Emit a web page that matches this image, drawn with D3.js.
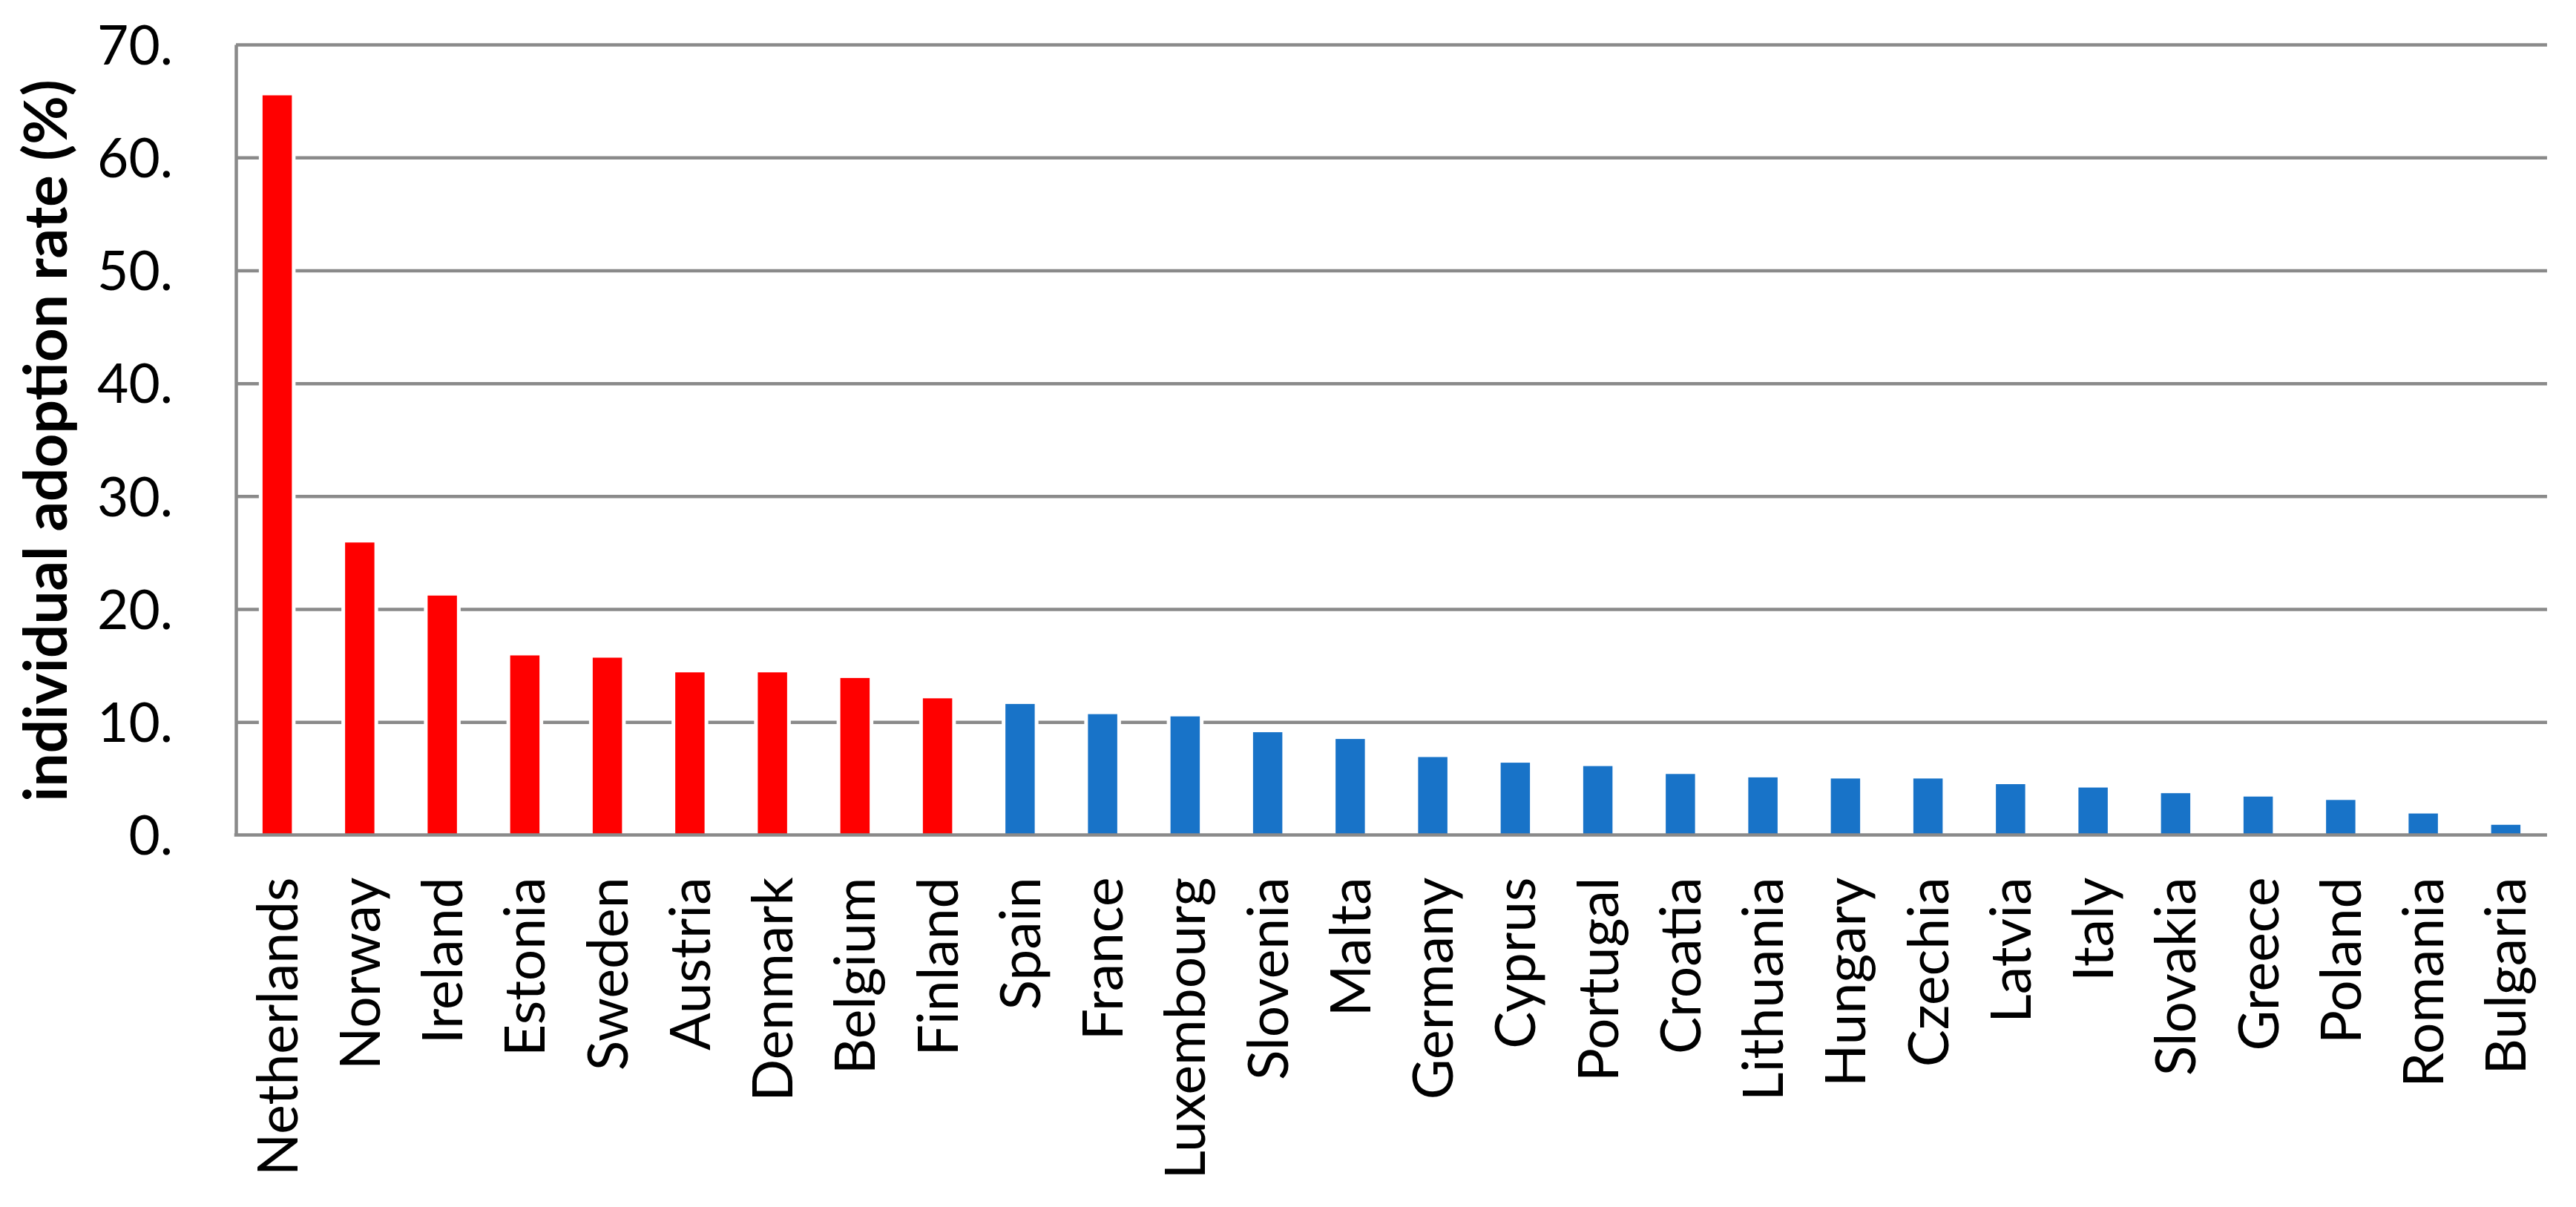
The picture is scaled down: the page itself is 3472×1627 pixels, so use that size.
<!DOCTYPE html>
<html>
<head>
<meta charset="utf-8">
<script src="https://cdn.jsdelivr.net/npm/d3@7"></script>
<style>
  html, body { margin: 0; padding: 0; background: #ffffff; }
  svg { display: block; }
</style>
</head>
<body>
<svg id="chart" width="3472" height="1627"></svg>
<script>
// ---- data ----
const countries = ["Netherlands","Norway","Ireland","Estonia","Sweden","Austria","Denmark","Belgium","Finland",
  "Spain","France","Luxembourg","Slovenia","Malta","Germany","Cyprus","Portugal","Croatia","Lithuania",
  "Hungary","Czechia","Latvia","Italy","Slovakia","Greece","Poland","Romania","Bulgaria"];
const adoptionRates = [65.5,25.9,21.2,15.9,15.7,14.4,14.4,13.9,12.1,
  11.6,10.7,10.5,9.1,8.5,6.9,6.4,6.1,5.4,5.1,
  5.0,5.0,4.5,4.2,3.7,3.4,3.1,1.9,0.9];
const highlighted = ["Netherlands","Norway","Ireland","Estonia","Sweden","Austria","Denmark","Belgium","Finland"];
const tickValues = [0,10,20,30,40,50,60,70];
const tickLabels = ["0.","10.","20.","30.","40.","50.","60.","70."];
const yTitle = "individual adoption rate (%)";

// ---- layout ----
const svg = d3.select("#chart");
const plotLeft = 318, plotRight = 3433, plotTop = 60, plotBottom = 1125.5;
const gridColor = "#8a8a8a";
const redColor = "#ff0000", blueColor = "#1873c8";
const fontFamily = "Lato, 'Open Sans', 'Liberation Sans', sans-serif";

const x = d3.scaleBand()
  .domain(countries)
  .range([plotLeft, plotRight])
  .paddingInner(0.645)
  .paddingOuter(0.3225);

const y = d3.scaleLinear().domain([0, 70]).range([plotBottom, plotTop]);

// gridlines
const grid = svg.append("g")
  .attr("transform", `translate(${plotLeft},0)`)
  .call(d3.axisLeft(y).tickValues(tickValues.filter(d => d > 0)).tickSize(-(plotRight - plotLeft)).tickFormat(""));
grid.select(".domain").remove();
grid.selectAll(".tick line").attr("stroke", gridColor).attr("stroke-width", 4.5);

// bars
const data = countries.map((c, i) => ({country: c, value: adoptionRates[i]}));
svg.append("g").selectAll("rect")
  .data(data)
  .join("rect")
  .attr("x", d => x(d.country))
  .attr("width", x.bandwidth())
  .attr("y", d => y(d.value))
  .attr("height", d => y(0) - y(d.value))
  .attr("fill", d => highlighted.includes(d.country) ? redColor : blueColor)
  .attr("stroke", "#ffffff")
  .attr("stroke-width", 10)
  .style("paint-order", "stroke");

// left axis line + tick labels
const yAxis = svg.append("g")
  .attr("transform", `translate(${plotLeft},0)`)
  .call(d3.axisLeft(y).tickValues(tickValues).tickSize(0).tickPadding(85)
    .tickFormat((d, i) => tickLabels[i]));
yAxis.select(".domain").attr("stroke", gridColor).attr("stroke-width", 4.5);
yAxis.selectAll(".tick text")
  .attr("font-family", fontFamily)
  .attr("font-size", 73)
  .attr("fill", "#000")
  .attr("dy", "0.36em");

// bottom axis
const xAxis = svg.append("g")
  .attr("transform", `translate(0,${plotBottom})`)
  .call(d3.axisBottom(x).tickSize(0));
xAxis.select(".domain")
  .attr("d", `M${plotLeft - 2.25},0H${plotRight}`)
  .attr("stroke", gridColor).attr("stroke-width", 4.5);
xAxis.selectAll(".tick text")
  .attr("font-family", fontFamily)
  .attr("font-size", 75)
  .attr("fill", "#000")
  .attr("text-anchor", "end")
  .attr("transform", "rotate(-90)")
  .attr("x", -57)
  .attr("y", 0)
  .attr("dy", "0.36em");

// y title
svg.append("text")
  .attr("transform", `translate(90,594) rotate(-90)`)
  .attr("text-anchor", "middle")
  .attr("font-family", fontFamily)
  .attr("font-weight", "bold")
  .attr("font-size", 80)
  .attr("fill", "#000")
  .text(yTitle);
</script>
</body>
</html>
